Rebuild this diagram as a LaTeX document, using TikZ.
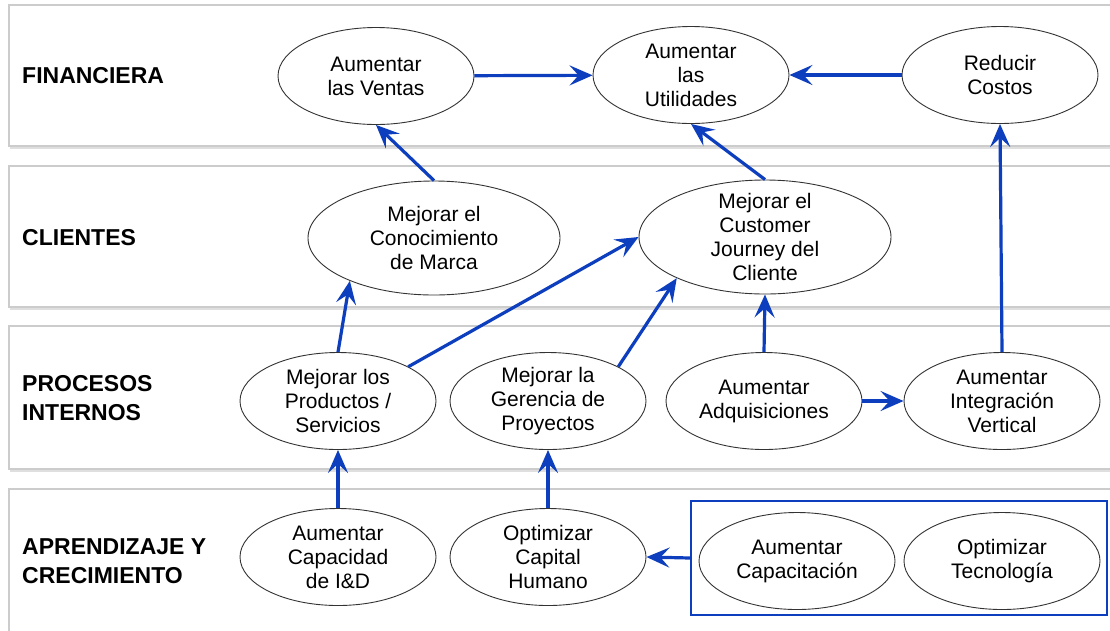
\documentclass[tikz,border=0pt]{standalone}
\usepackage{fontspec}
\setmainfont{Liberation Sans}
\usetikzlibrary{shapes.geometric, arrows.meta, shadows}

\definecolor{azul}{RGB}{12,62,190}
\definecolor{borde}{RGB}{204,204,204}

\begin{document}
\begin{tikzpicture}[x=1pt, y=-1pt,
    objetivo/.style={ellipse, draw=black!80, line width=0.9pt, fill=white, inner sep=0pt, inner ysep=-4pt,
        minimum width=196pt, minimum height=97pt, align=center, font=\fontsize{21}{24}\selectfont},
    grande/.style={objetivo, inner ysep=-8pt, minimum width=252pt, minimum height=114pt},
    perspectiva/.style={anchor=west, align=left, inner xsep=0pt, font=\fontsize{23}{29}\selectfont\bfseries},
    franja/.style={draw=borde, line width=1.3pt, fill=white,
        drop shadow={shadow xshift=0.5pt, shadow yshift=-3pt, opacity=0.25}},
    flecha/.style={draw=azul, line width=3.2pt, -{Stealth[length=23pt, width=20pt, inset=9pt]}}
]
    \useasboundingbox (0,0) rectangle (1110,630); % same frame as the reference

    % the four perspective bands (open to the right and below)
    \foreach \arriba/\abajo in {5/146, 166/307, 326/469, 489/650}{
        \draw[franja] (9,\arriba) rectangle (1140,\abajo);
    }

    \node[perspectiva] (financiera) at (22,76) {FINANCIERA};
    \node[perspectiva] (clientes) at (22,238) {CLIENTES};
    \node[perspectiva] (procesos) at (22,398) {PROCESOS\\INTERNOS};
    \node[perspectiva] (aprendizaje) at (22,561) {APRENDIZAJE Y\\CRECIMIENTO};

    % objectives
    \node[objetivo] (ventas) at (376,76) {Aumentar\\las Ventas};
    \node[objetivo] (utilidades) at (691,75) {Aumentar\\las\\Utilidades};
    \node[objetivo] (costos) at (1000,75) {Reducir\\Costos};
    \node[grande] (marca) at (434,238) {Mejorar el\\Conocimiento\\de Marca};
    \node[grande] (journey) at (765,237) {Mejorar el\\Customer\\Journey del\\Cliente};
    \node[objetivo] (productos) at (338,401) {Mejorar los\\Productos /\\Servicios};
    \node[objetivo] (gerencia) at (548,401) {Mejorar la\\Gerencia de\\Proyectos};
    \node[objetivo] (adquisiciones) at (764,401) {Aumentar\\Adquisiciones};
    \node[objetivo] (integracion) at (1002,401) {Aumentar\\Integración\\Vertical};
    \node[objetivo] (capacidad) at (338,557) {Aumentar\\Capacidad\\de I\&D};
    \node[objetivo] (capital) at (548,557) {Optimizar\\Capital\\Humano};
    \node[objetivo] (capacitacion) at (797,561) {Aumentar\\Capacitación};
    \node[objetivo] (tecnologia) at (1002,561) {Optimizar\\Tecnología};
    \node[draw=azul, line width=1.8pt, minimum width=416pt, minimum height=114pt] (grupo) at (899,558) {}; % box round the last two

    % cause and effect links
    \draw[flecha] (ventas) -- (utilidades);
    \draw[flecha] (costos) -- (utilidades);
    \draw[flecha] (marca.north) -- (ventas.south);
    \draw[flecha] (journey.north) -- (utilidades.south);
    \draw[flecha] (integracion.north) -- (costos.south);
    \draw[flecha] (productos.north) -- (marca.207);
    \draw[flecha] (productos.26) -- (journey.west);
    \draw[flecha] (gerencia.26) -- (journey.205);
    \draw[flecha] (adquisiciones.north) -- (journey.south);
    \draw[flecha] (adquisiciones) -- (integracion);
    \draw[flecha] (capacidad) -- (productos);
    \draw[flecha] (capital) -- (gerencia);
    \draw[flecha] (grupo.west) -- (capital.east);
\end{tikzpicture}
\end{document}
